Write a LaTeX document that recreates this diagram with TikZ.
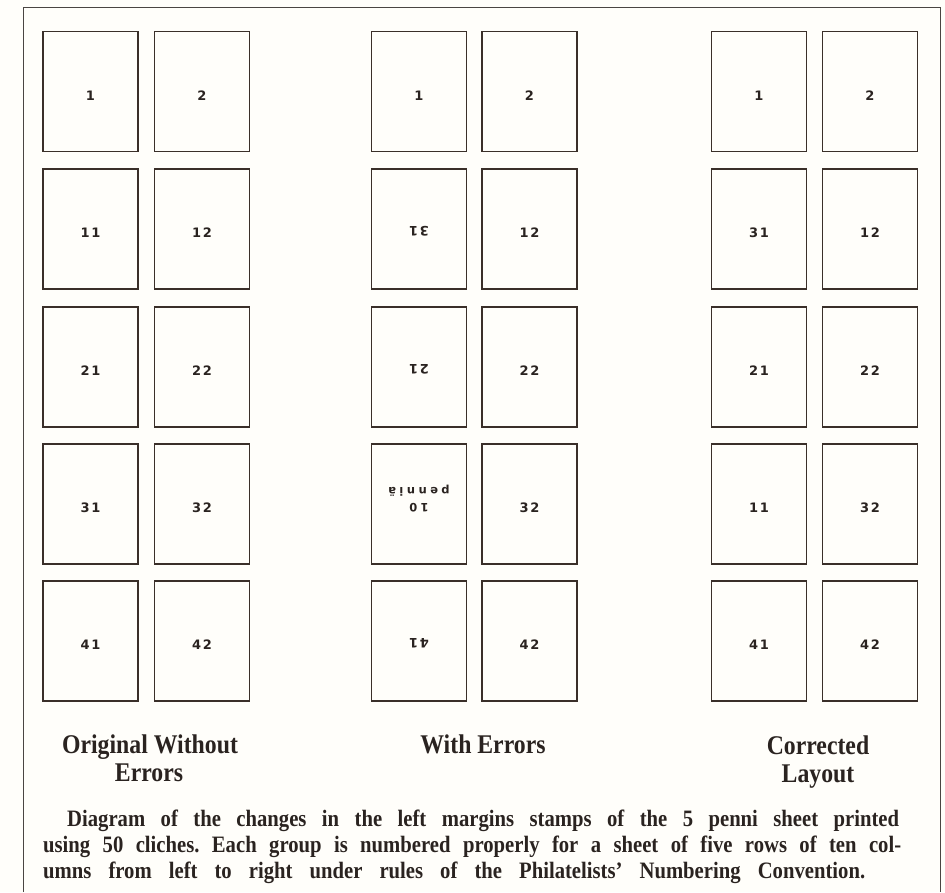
\documentclass[tikz,border=0pt]{standalone}
\usepackage{fontspec}
\usetikzlibrary{calc}
\setmainfont{Liberation Serif}
\newfontfamily\capfont[FakeStretch=0.88]{Liberation Serif}
\newfontfamily\numfont[LetterSpace=14]{DejaVu Sans}
\newfontfamily\pennifont[LetterSpace=30]{DejaVu Sans}
\definecolor{ink}{HTML}{2A2320}
\definecolor{boxc}{HTML}{3A2F29}
\definecolor{paper}{HTML}{FFFEFA}
\definecolor{framec}{HTML}{4A4542}
\tikzset{
  stamp/.style={draw=boxc, line width=1.7pt, minimum width=95pt, minimum height=120pt, inner sep=0pt},
  num/.style={text=ink, font=\numfont\bfseries\fontsize{13}{15}\selectfont, inner sep=0pt},
  penni/.style={text=ink, font=\pennifont\bfseries\fontsize{11.5}{13}\selectfont, inner sep=0pt, align=center},
  title/.style={text=ink, font=\capfont\bfseries\fontsize{27}{30}\selectfont, inner sep=0pt, anchor=base},
  capt/.style={text=ink, font=\capfont\bfseries\fontsize{23.5}{26}\selectfont, inner sep=0pt, anchor=base west},
  frameline/.style={draw=framec, line width=1pt}
}
\frenchspacing
\begin{document}
\begin{tikzpicture}[x=1pt,y=-1pt]
\useasboundingbox (0,0) rectangle (945,892);
\fill[paper] (0,0) rectangle (945,892);
\draw[frameline] (23,892) -- (23,7) -- (940,7) -- (940,892);
% stamps
\foreach \r/\cy in {1/91.5,2/229,3/367,4/504,5/641}{
  \foreach \g/\xa/\xb in {L/90.5/202, M/419/529.5, R/759/870}{
    \node[stamp] (\g\r a) at (\xa,\cy) {};
    \node[stamp] (\g\r b) at (\xb,\cy) {};
  }
}
% upright numbers
\foreach \n/\t in {L1a/1,L1b/2,L2a/11,L2b/12,L3a/21,L3b/22,L4a/31,L4b/32,L5a/41,L5b/42,
                   M1a/1,M1b/2,M2b/12,M3b/22,M4b/32,M5b/42,
                   R1a/1,R1b/2,R2a/31,R2b/12,R3a/21,R3b/22,R4a/11,R4b/32,R5a/41,R5b/42}{
  \node[num] (t\n) at ($(\n.center)+(0,4)$) {\t};
}
% inverted numbers
\foreach \n/\t in {M2a/31,M3a/21,M5a/41}{
  \node[num, rotate=180] (t\n) at ($(\n.center)+(0,2)$) {\t};
}
\node[penni, rotate=180] (tM4a) at ($(M4a.center)+(0,-5)$) {10\\[3pt]penniä};
% titles
\node[title] (h1a) at (150,753) {Original Without};
\node[title] (h1b) at (149,781) {Errors};
\node[title] (h2) at (483,753) {With Errors};
\node[title] (h3a) at (818,754) {Corrected};
\node[title] (h3b) at (818,782) {Layout};
% caption
\node[capt] (c1) at (67,826) {\makebox[832pt][s]{Diagram of the changes in the left margins stamps of the 5 penni sheet printed}};
\node[capt] (c2) at (43,852) {\makebox[858pt][s]{using 50 cliches. Each group is numbered properly for a sheet of five rows of ten col-}};
\node[capt] (c3) at (43,878) {\makebox[822pt][s]{umns from left to right under rules of the Philatelists’ Numbering Convention.}};
\end{tikzpicture}
\end{document}
